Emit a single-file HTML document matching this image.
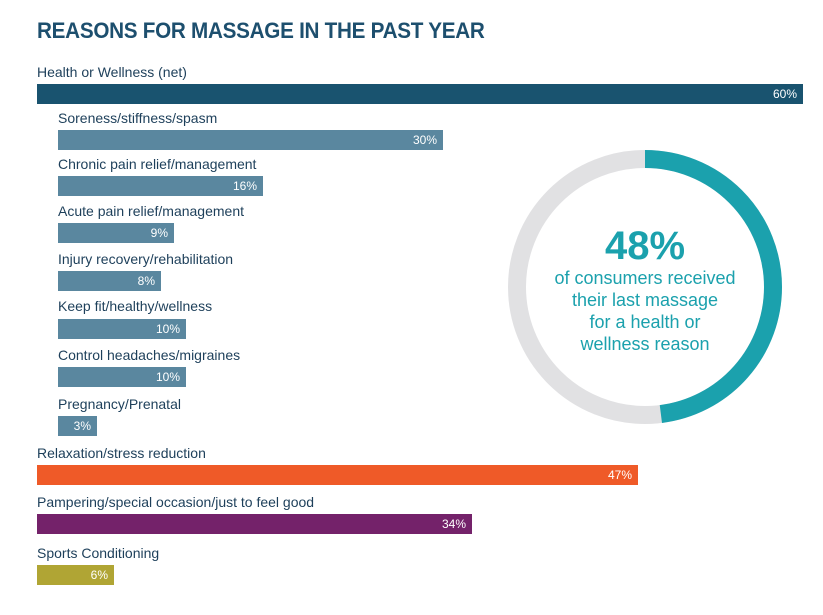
<!DOCTYPE html>
<html><head><meta charset="utf-8"><style>
body{margin:0;width:823px;height:615px;background:#fff;position:relative;font-family:"Liberation Sans",sans-serif;overflow:hidden}
.t{position:absolute;left:37px;top:18px;font-size:22px;font-weight:bold;color:#1d4f6e;letter-spacing:-0.3px;transform:scaleX(0.94);transform-origin:left}
.l{position:absolute;font-size:14px;color:#1d3f5a;white-space:nowrap}
.b{position:absolute;height:20px;color:#fff;font-size:12px;text-align:right;box-sizing:border-box;padding-right:6px;line-height:20px}
.s{background:#5a879f}
</style></head><body>
<div class="t">REASONS FOR MASSAGE IN THE PAST YEAR</div>
<div class="l" style="left:37px;top:64px">Health or Wellness (net)</div>
<div class="b" style="left:37px;top:84px;width:766px;background:#19536f">60%</div>
<div class="l" style="left:58px;top:110px">Soreness/stiffness/spasm</div>
<div class="b s" style="left:58px;top:130px;width:385px">30%</div>
<div class="l" style="left:58px;top:156px">Chronic pain relief/management</div>
<div class="b s" style="left:58px;top:176px;width:205px">16%</div>
<div class="l" style="left:58px;top:203px">Acute pain relief/management</div>
<div class="b s" style="left:58px;top:223px;width:116px">9%</div>
<div class="l" style="left:58px;top:251px">Injury recovery/rehabilitation</div>
<div class="b s" style="left:58px;top:271px;width:103px">8%</div>
<div class="l" style="left:58px;top:298px">Keep fit/healthy/wellness</div>
<div class="b s" style="left:58px;top:319px;width:128px">10%</div>
<div class="l" style="left:58px;top:347px">Control headaches/migraines</div>
<div class="b s" style="left:58px;top:367px;width:128px">10%</div>
<div class="l" style="left:58px;top:396px">Pregnancy/Prenatal</div>
<div class="b s" style="left:58px;top:416px;width:39px">3%</div>
<div class="l" style="left:37px;top:445px">Relaxation/stress reduction</div>
<div class="b" style="left:37px;top:465px;width:601px;background:#ef5a28">47%</div>
<div class="l" style="left:37px;top:494px">Pampering/special occasion/just to feel good</div>
<div class="b" style="left:37px;top:514px;width:435px;background:#74226a">34%</div>
<div class="l" style="left:37px;top:545px">Sports Conditioning</div>
<div class="b" style="left:37px;top:565px;width:77px;background:#b0a534">6%</div>
<svg style="position:absolute;left:0;top:0" width="823" height="615">
<circle cx="645" cy="287" r="128" fill="none" stroke="#e1e1e3" stroke-width="18"/>
<circle cx="645" cy="287" r="128" fill="none" stroke="#1ba1ad" stroke-width="18" stroke-dasharray="386 1000" transform="rotate(-90 645 287)"/>
<text x="645" y="259" text-anchor="middle" font-family="Liberation Sans" font-weight="bold" font-size="40" fill="#1ba1ad">48%</text>
<g font-family="Liberation Sans" font-size="18" fill="#1ba1ad" text-anchor="middle">
<text x="645" y="284">of consumers received</text>
<text x="645" y="306">their last massage</text>
<text x="645" y="328">for a health or</text>
<text x="645" y="350">wellness reason</text>
</g></svg>
</body></html>
